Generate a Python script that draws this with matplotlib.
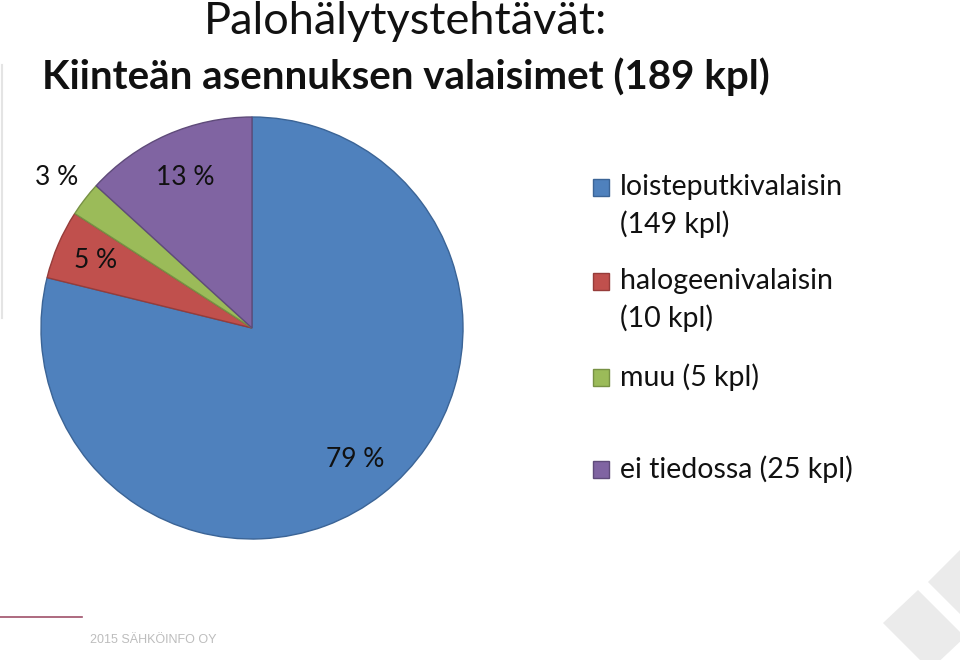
import matplotlib.pyplot as plt
import numpy as np
from matplotlib.patches import Rectangle, Polygon
from matplotlib.lines import Line2D

# data
categories = ['loisteputkivalaisin', 'halogeenivalaisin', 'muu', 'ei tiedossa']
counts = [149, 10, 5, 25]
legend_labels = ['loisteputkivalaisin\n(149 kpl)', 'halogeenivalaisin\n(10 kpl)',
                 'muu (5 kpl)', 'ei tiedossa (25 kpl)']
colors = ['#4F81BD', '#C0504D', '#9BBB59', '#8064A2']
edges = ['#3B6496', '#963C3A', '#779144', '#5F4B7A']
label_radius = [0.79, 0.81, 1.17, 0.78]

title = 'Palohälytystehtävät:'
subtitle = 'Kiinteän asennuksen valaisimet (189 kpl)'
footer = '2015 SÄHKÖINFO OY'

plt.rcParams['font.family'] = ['Lato', 'DejaVu Sans']

fig = plt.figure(figsize=(9.6, 6.6), dpi=100)
W, H = 960, 660

# decorations
fig.add_artist(Polygon([[883 / W, 1 - 623 / H], [918 / W, 1 - 590 / H], [965 / W, 1 - 637 / H],
                        [930 / W, 1 - 670 / H]], closed=True, transform=fig.transFigure,
                       facecolor='#EBEBEB', edgecolor='none'))
fig.add_artist(Polygon([[928 / W, 1 - 582 / H], [965 / W, 1 - 545 / H], [1000 / W, 1 - 580 / H],
                        [963 / W, 1 - 617 / H]], closed=True, transform=fig.transFigure,
                       facecolor='#EBEBEB', edgecolor='none'))
fig.add_artist(Line2D([0, 82 / W], [1 - 617 / H, 1 - 617 / H], transform=fig.transFigure,
                      color='#A0506A', lw=1.2))
fig.add_artist(Line2D([2 / W, 2 / W], [1 - 65 / H, 1 - 318 / H], transform=fig.transFigure,
                      color='#E4E4E4', lw=1.5))
fig.text(90 / W, 1 - 640 / H, footer, fontsize=9, color='#BDBDBD',
         family=['Liberation Sans'], va='center', ha='left')

fig.text(406 / W, 1 - 21 / H, title, fontsize=32.5, ha='center', va='center', color='#111111')
fig.text(406 / W, 1 - 77 / H, subtitle, fontsize=29, fontweight='bold', ha='center',
         va='center', color='#111111')

# pie
cx, cy, R = 252, 328, 211
ax = fig.add_axes([(cx - R) / W, (H - cy - R) / H, 2 * R / W, 2 * R / H])
wedges, _ = ax.pie(counts, colors=colors, startangle=90, counterclock=False,
                   radius=1, wedgeprops=dict(linewidth=1))
for w, ec in zip(wedges, edges):
    w.set_edgecolor(ec)
ax.set_xlim(-1, 1)
ax.set_ylim(-1, 1)

total = sum(counts)
for w, c, r in zip(wedges, counts, label_radius):
    ang = np.deg2rad((w.theta1 + w.theta2) / 2)
    ax.text(r * np.cos(ang), r * np.sin(ang), f'{round(100 * c / total)} %',
            ha='center', va='center', fontsize=19, color='#111111')

# legend
legend_y = [187, 281, 377, 469]
for lab, col, ec, y in zip(legend_labels, colors, edges, legend_y):
    fig.add_artist(Rectangle((593 / W, 1 - (y + 9) / H), 16 / W, 17 / H, transform=fig.transFigure,
                             facecolor=col, edgecolor=ec, lw=1))
    for i, line in enumerate(lab.split('\n')):
        fig.text(620 / W, 1 - (y + 37 * i) / H, line, fontsize=20.5, ha='left', va='center',
                 color='#111111')

fig.savefig('out.png', dpi=100)
